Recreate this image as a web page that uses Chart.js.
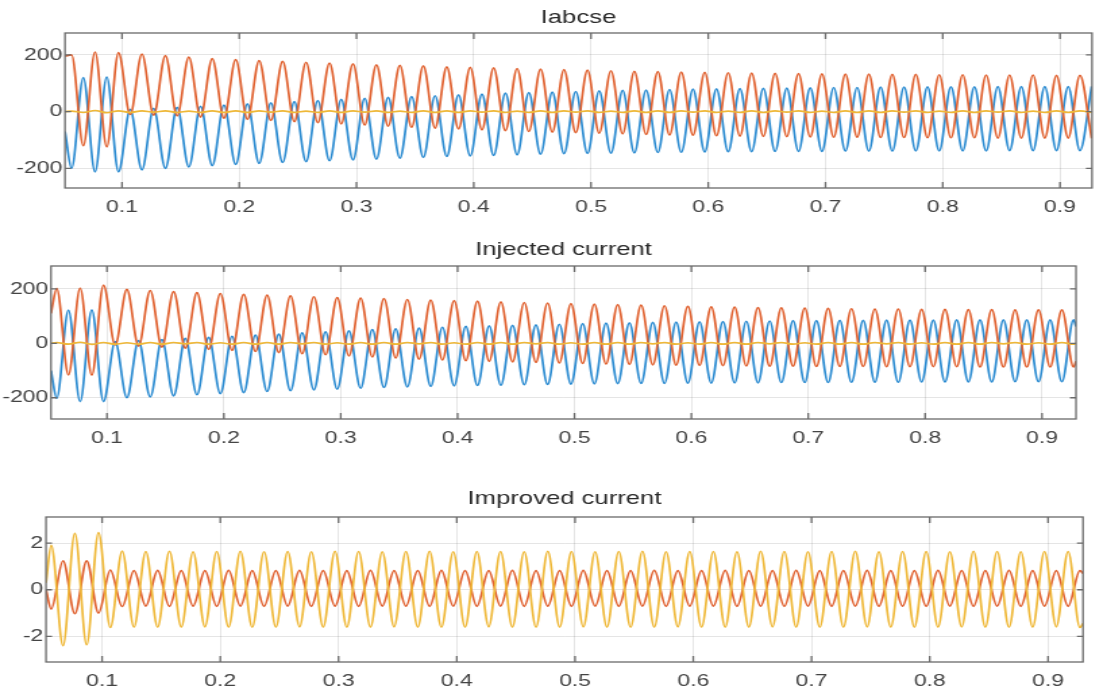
<!DOCTYPE html>
<html><head><meta charset="utf-8">
<script src="https://cdn.jsdelivr.net/npm/chart.js@4.4.1/dist/chart.umd.min.js"></script>
<style>
html,body{margin:0;padding:0;background:#fff;overflow:hidden;width:1094px;height:693px;}
.panel{position:absolute;left:0;transform:scaleX(1.35);transform-origin:0 0;}
</style></head><body>
<div class="panel" style="top:0px"><canvas id="c1" width="811" height="222"></canvas></div>
<div class="panel" style="top:228px"><canvas id="c2" width="811" height="222"></canvas></div>
<div class="panel" style="top:460px"><canvas id="c3" width="811" height="233"></canvas></div>
<script>
// ---------- DATA ----------
const titles = ["Iabcse", "Injected current", "Improved current"];
const xTickValues = [0.1, 0.2, 0.3, 0.4, 0.5, 0.6, 0.7, 0.8, 0.9];
const xTickLabels = ["0.1", "0.2", "0.3", "0.4", "0.5", "0.6", "0.7", "0.8", "0.9"];
const yTickValuesA = [-200, 0, 200];
const yTickLabelsA = ["-200", "0", "200"];
const yTickValuesB = [-2, 0, 2];
const yTickLabelsB = ["-2", "0", "2"];

// times of successive peaks/troughs (s)
const tExt = [
 0.057,0.067,0.077,0.087,0.097,0.107,0.117,0.127,0.137,0.147,
 0.157,0.167,0.177,0.187,0.197,0.207,0.217,0.227,0.237,0.247,
 0.257,0.267,0.277,0.287,0.297,0.307,0.317,0.327,0.337,0.347,
 0.357,0.367,0.377,0.387,0.397,0.407,0.417,0.427,0.437,0.447,
 0.457,0.467,0.477,0.487,0.497,0.507,0.517,0.527,0.537,0.547,
 0.557,0.567,0.577,0.587,0.597,0.607,0.617,0.627,0.637,0.647,
 0.657,0.667,0.677,0.687,0.697,0.707,0.717,0.727,0.737,0.747,
 0.757,0.767,0.777,0.787,0.797,0.807,0.817,0.827,0.837,0.847,
 0.857,0.867,0.877,0.887,0.897,0.907,0.917,0.927];
const time1 = [0.0514].concat(tExt);
const time2 = [0.0521].concat(tExt, [0.9291]);
const time3 = [0.0526].concat(tExt, [0.9296]);

// Panel 1: Iabcse
const ia1 = [-70,
 -200,120, -212,122, -212,8, -205,12, -200,15, -195,19, -190,23, -186,27, -182,31, -179,35,
 -176,39, -173,43, -170,47, -167,50, -164,53, -161,56, -158,59, -156,62, -154,65, -152,67,
 -150,69, -148,71, -147,73, -146,75, -145,76, -144,78, -143,79, -142,80, -141,81, -141,82,
 -140,83, -140,84, -140,85, -139,85, -139,86, -139,86, -138,87, -138,87, -138,87, -138,88,
 -137,88, -137,88, -137,88, -137,89];
const ib1 = [195,
 200,-120, 210,-124, 208,-10, 203,-12, 197,-15, 192,-19, 187,-23, 183,-27, 180,-31, 177,-35,
 174,-39, 171,-43, 168,-47, 165,-51, 163,-55, 161,-58, 158,-61, 156,-64, 154,-67, 152,-70,
 150,-72, 148,-74, 146,-76, 144,-78, 142,-80, 141,-82, 139,-83, 138,-85, 137,-86, 136,-87,
 135,-88, 134,-89, 133,-90, 132,-90, 132,-91, 131,-91, 131,-92, 130,-92, 130,-92, 129,-93,
 129,-93, 129,-93, 128,-93, 128,-94];
const ic1 = [0,
 2,-3, 4,-4, 3,-3, 3,-2, 3,-3, 2,-3, 3,-3, 3,-3, 3,-2, 3,-3,
 2,-3, 3,-3, 3,-2, 3,-3, 2,-3, 3,-3, 3,-3, 3,-2, 3,-3, 2,-3,
 3,-3, 3,-2, 3,-3, 2,-3, 3,-3, 3,-3, 3,-2, 3,-3, 2,-3, 3,-3,
 3,-2, 3,-3, 2,-3, 3,-3, 3,-3, 3,-2, 3,-3, 2,-3, 3,-3, 3,-2,
 3,-3, 2,-3, 3,-3, 3,-3];

// Panel 2: Injected current
const ia2 = [-100,
 -202,122, -214,123, -214,6, -200,10, -197,14, -193,18, -189,22, -185,26, -181,30, -177,34,
 -174,38, -171,42, -168,46, -165,50, -162,53, -160,56, -158,59, -156,62, -155,64, -154,66,
 -152,68, -151,70, -150,72, -149,74, -148,75, -147,77, -147,78, -146,79, -146,80, -145,81,
 -145,82, -144,83, -144,83, -144,84, -143,84, -143,85, -143,85, -142,85, -142,86, -142,86,
 -142,86, -141,86, -141,86, -141,86,
 62];
const ib2 = [110,
 202,-116, 203,-117, 214,-6, 198,-10, 194,-14, 190,-18, 186,-22, 183,-26, 180,-30, 177,-34,
 174,-38, 171,-42, 168,-46, 166,-50, 164,-54, 161,-58, 159,-61, 157,-64, 155,-66, 152,-68,
 150,-70, 148,-72, 146,-74, 144,-76, 142,-77, 140,-79, 138,-80, 136,-81, 134,-82, 133,-83,
 131,-84, 130,-84, 129,-85, 128,-85, 127,-85, 126,-86, 126,-86, 125,-86, 125,-86, 124,-87,
 124,-87, 123,-87, 123,-87, 123,-87,
 -66];
const ic2 = [0,
 3,-3, 4,-4, 3,-3, 2,-3, 3,-3, 3,-2, 3,-3, 2,-3, 3,-3, 3,-3,
 3,-2, 3,-3, 2,-3, 3,-3, 3,-3, 3,-2, 3,-3, 2,-3, 3,-3, 3,-3,
 3,-2, 3,-3, 2,-3, 3,-3, 3,-3, 3,-2, 3,-3, 2,-3, 3,-3, 3,-3,
 3,-2, 3,-3, 2,-3, 3,-3, 3,-3, 3,-2, 3,-3, 2,-3, 3,-3, 3,-3,
 3,-2, 3,-3, 2,-3, 3,-3,
 0];

// Panel 3: Improved current
const ib3 = [0.0,
 -0.83,1.24, -1.03,1.24, -1.00,0.84, -0.72,0.82, -0.70,0.83, -0.71,0.82, -0.70,0.82, -0.71,0.83, -0.70,0.82, -0.71,0.82,
 -0.70,0.83, -0.71,0.82, -0.70,0.82, -0.71,0.83, -0.70,0.82, -0.70,0.82, -0.71,0.83, -0.70,0.82, -0.71,0.82, -0.70,0.83,
 -0.71,0.82, -0.70,0.82, -0.71,0.83, -0.70,0.82, -0.71,0.82, -0.70,0.83, -0.71,0.82, -0.70,0.82, -0.70,0.83, -0.71,0.82,
 -0.70,0.82, -0.71,0.83, -0.70,0.82, -0.71,0.82, -0.70,0.83, -0.71,0.82, -0.70,0.82, -0.71,0.83, -0.70,0.82, -0.71,0.82,
 -0.70,0.83, -0.71,0.82, -0.70,0.82, -0.71,0.82,
 0.70];
const ic3 = [0.3,
 1.90,-2.40, 2.42,-2.36, 2.45,-1.62, 1.66,-1.60, 1.64,-1.61, 1.65,-1.60, 1.63,-1.59, 1.64,-1.60, 1.65,-1.61, 1.63,-1.60,
 1.64,-1.59, 1.63,-1.60, 1.65,-1.61, 1.64,-1.60, 1.63,-1.59, 1.64,-1.60, 1.65,-1.61, 1.63,-1.60, 1.64,-1.59, 1.64,-1.60,
 1.63,-1.61, 1.65,-1.60, 1.64,-1.59, 1.63,-1.60, 1.64,-1.61, 1.65,-1.60, 1.63,-1.59, 1.64,-1.60, 1.64,-1.61, 1.63,-1.60,
 1.65,-1.59, 1.64,-1.60, 1.63,-1.61, 1.64,-1.60, 1.65,-1.59, 1.63,-1.60, 1.64,-1.61, 1.64,-1.60, 1.63,-1.59, 1.65,-1.60,
 1.64,-1.61, 1.63,-1.60, 1.64,-1.59, 1.64,-1.62,
 -1.45];

// ---------- STYLE / LAYOUT ----------
const SX = 1.35, CW = 811;
const COL_A = '#2b8bd1', COL_B = '#e0612f', COL_C = '#efb838';
const FONT = 'Liberation Sans, Arial, sans-serif';

const framePlugin = {
  id: 'matlabFrame',
  afterDatasetsDraw(chart) {
    const {ctx, chartArea: a, scales: {x, y}} = chart;
    ctx.save();
    ctx.strokeStyle = '#6a6a6a';
    ctx.lineWidth = 1.3;
    ctx.strokeRect(a.left, a.top, a.right - a.left, a.bottom - a.top);
    ctx.beginPath();
    x.ticks.forEach(t => {
      const px = x.getPixelForValue(t.value);
      ctx.moveTo(px, a.bottom); ctx.lineTo(px, a.bottom - 6);
      ctx.moveTo(px, a.top); ctx.lineTo(px, a.top + 6);
    });
    y.ticks.forEach(t => {
      const py = y.getPixelForValue(t.value);
      ctx.moveTo(a.left, py); ctx.lineTo(a.left + 4.5, py);
      ctx.moveTo(a.right, py); ctx.lineTo(a.right - 4.5, py);
    });
    ctx.stroke();
    ctx.restore();
  }
};

function series(times, vals, color, order) {
  return {
    data: times.map((t, i) => ({x: t, y: vals[i]})),
    borderColor: color, borderWidth: 1.7, pointRadius: 0,
    cubicInterpolationMode: 'monotone', fill: false, order: order
  };
}

function makePanel(id, title, datasets, lay, yVals, yLabels) {
  new Chart(document.getElementById(id), {
    type: 'line',
    data: {datasets: datasets},
    plugins: [framePlugin],
    options: {
      responsive: false, animation: false, events: [],
      layout: {padding: {left: 0, top: 0, bottom: 0, right: CW - lay.R / SX}},
      plugins: {
        legend: {display: false}, tooltip: {enabled: false},
        title: {display: true, text: title, fullSize: false, color: '#2a2a2a',
          font: {family: FONT, size: 19, weight: 'normal', lineHeight: 1.2},
          padding: {top: lay.tTop, bottom: lay.tBot}}
      },
      scales: {
        x: {type: 'linear', min: lay.xmin, max: lay.xmax,
          afterBuildTicks: s => { s.ticks = xTickValues.map(v => ({value: v})); },
          afterFit: s => { s.height = lay.xH; },
          ticks: {autoSkip: false, maxRotation: 0, padding: 9, color: '#444',
            font: {family: FONT, size: 17}, callback: (v, i) => xTickLabels[i]},
          grid: {color: 'rgba(0,0,0,0.10)', lineWidth: 1, drawTicks: false},
          border: {display: false}},
        y: {type: 'linear', min: lay.ymin, max: lay.ymax,
          afterBuildTicks: s => { s.ticks = yVals.map(v => ({value: v})); },
          afterFit: s => { s.width = lay.L / SX; },
          ticks: {padding: 2, color: '#444', font: {family: FONT, size: 17},
            callback: (v, i) => yLabels[i]},
          grid: {color: 'rgba(0,0,0,0.10)', lineWidth: 1, drawTicks: false},
          border: {display: false}}
      }
    }
  });
}

makePanel('c1', titles[0], [
  series(time1, ia1, COL_A, 3), series(time1, ib1, COL_B, 2), series(time1, ic1, COL_C, 1)
], {L: 65, R: 1092, tTop: 6.6, tBot: 3.6, xH: 34, xmin: 0.0514, xmax: 0.9273, ymin: -269, ymax: 277},
 yTickValuesA, yTickLabelsA);

makePanel('c2', titles[1], [
  series(time2, ia2, COL_A, 3), series(time2, ib2, COL_B, 2), series(time2, ic2, COL_C, 1)
], {L: 51, R: 1076, tTop: 10.6, tBot: 4.6, xH: 31, xmin: 0.0521, xmax: 0.9291, ymin: -278, ymax: 284},
 yTickValuesA, yTickLabelsA);

makePanel('c3', titles[2], [
  series(time3, ib3, COL_B, 2), series(time3, ic3, COL_C, 1)
], {L: 46, R: 1083, tTop: 27.1, tBot: 7.1, xH: 31, xmin: 0.0526, xmax: 0.9296, ymin: -3.1, ymax: 3.12},
 yTickValuesB, yTickLabelsB);
</script>
</body></html>
